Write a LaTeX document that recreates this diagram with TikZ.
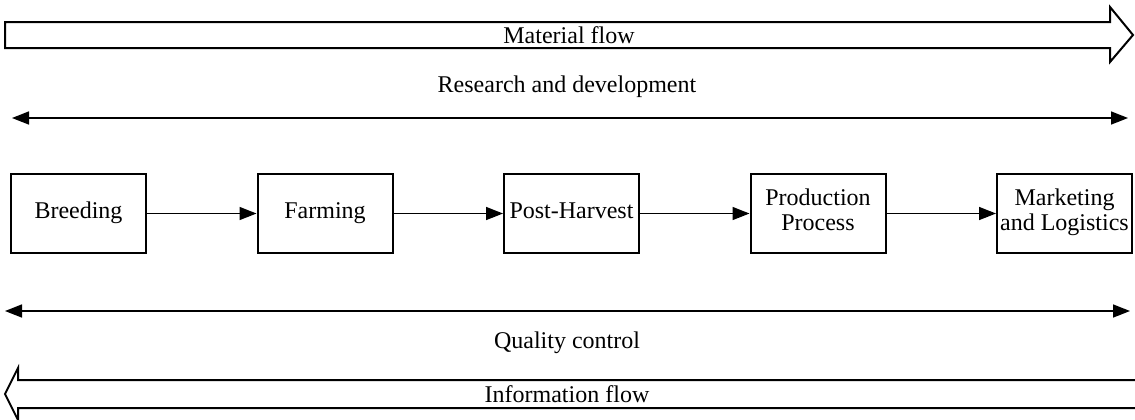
\documentclass[tikz,border=0pt]{standalone}
\usepackage{fontspec}
\setmainfont{Liberation Serif}
\usetikzlibrary{arrows.meta,positioning}

\begin{document}
\begin{tikzpicture}[
    x=0.5pt, y=-0.5pt,
    font=\fontsize{12}{12.5}\selectfont,
    node distance=54.75pt,
    stage/.style={
      draw,
      line width=1pt,
      align=center,
      minimum width=67.5pt,
      minimum height=39.5pt,
      inner sep=1pt,
      execute at begin node=\strut,
      execute at end node=\strut
    },
    arrow/.style={-{Triangle[length=8.5pt,width=6.5pt]}, line width=0.8pt},
    span/.style={{Triangle[length=8.5pt,width=6.5pt]}-{Triangle[length=8.5pt,width=6.5pt]}, line width=0.8pt},
    flow/.style={draw, line width=1pt, line join=miter},
    caption/.style={inner sep=0pt}
  ]
    \useasboundingbox (0,0) rectangle (1135,419);

    % material flow
    \draw[flow] (5,22) -- (1110,22) -- (1110,7) -- (1133,35) -- (1110,62)
      -- (1110,48) -- (5,48) -- cycle;
    \node[caption] (material) at (569,35) {Material flow};

    \node[caption] (rd) at (567,87) {Research and development};
    \coordinate (rdL) at (12,118);
    \coordinate (rdR) at (1128,118);
    \draw[span] (rdL) -- (rdR);

    \node[stage] (breeding) at (78.5,213.5) {Breeding};
    \node[stage, right=of breeding] (farming) {Farming};
    \node[stage, right=of farming] (post) {Post-Harvest};
    \node[stage, right=of post] (production) {Production\\Process};
    \node[stage, right=of production] (marketing) {Marketing\\and Logistics};

    \draw[arrow] (breeding) -- (farming);
    \draw[arrow] (farming) -- (post);
    \draw[arrow] (post) -- (production);
    \draw[arrow] (production) -- (marketing);

    \coordinate (qcL) at (5,311);
    \coordinate (qcR) at (1130,311);
    \draw[span] (qcL) -- (qcR);
    \node[caption] (qc) at (567,343) {Quality control};

    % information flow
    \draw[flow] (1140,380) -- (18,380) -- (18,368) -- (5,394) -- (18,420)
      -- (18,408) -- (1140,408);
    \node[caption] (information) at (567,394) {Information flow};
  \end{tikzpicture}
\end{document}
